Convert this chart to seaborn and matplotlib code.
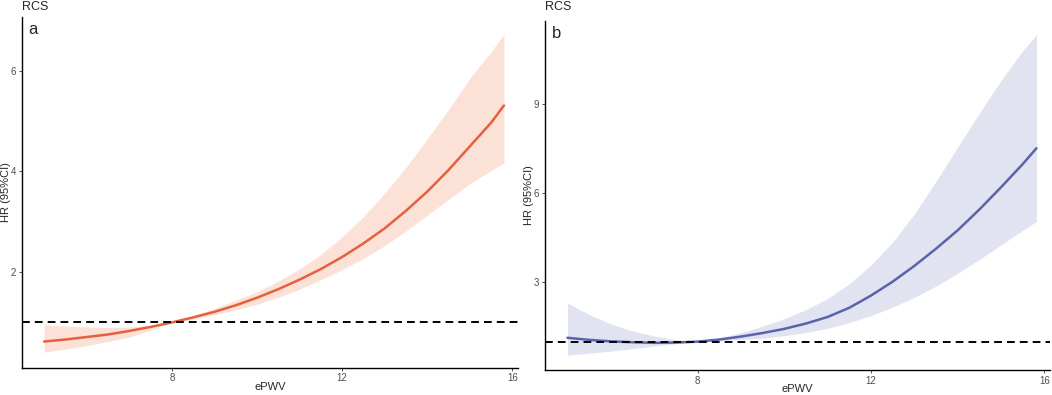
import numpy as np
import pandas as pd
import seaborn as sns
import matplotlib.pyplot as plt

# values (ePWV vs HR, RCS fits)
x_a = [5.0, 5.5, 6.0, 6.5, 7.0, 7.5, 8.0, 8.5, 9.0, 9.5, 10.0, 10.5, 11.0, 11.5,
       12.0, 12.5, 13.0, 13.5, 14.0, 14.5, 15.0, 15.5, 15.8]
hr_a = [0.62, 0.66, 0.71, 0.76, 0.83, 0.91, 1.00, 1.10, 1.21, 1.34, 1.49, 1.66, 1.85, 2.06,
        2.30, 2.57, 2.87, 3.22, 3.60, 4.03, 4.50, 4.97, 5.31]
up_a = [0.95, 0.93, 0.91, 0.90, 0.91, 0.94, 1.00, 1.13, 1.28, 1.44, 1.61, 1.82, 2.06, 2.35,
        2.70, 3.10, 3.57, 4.08, 4.65, 5.23, 5.85, 6.38, 6.72]
lo_a = [0.41, 0.47, 0.54, 0.62, 0.71, 0.84, 1.00, 1.07, 1.15, 1.25, 1.36, 1.50, 1.66, 1.85,
        2.05, 2.27, 2.53, 2.82, 3.13, 3.45, 3.76, 4.02, 4.17]

x_b = [5.0, 5.5, 6.0, 6.5, 7.0, 7.5, 8.0, 8.5, 9.0, 9.5, 10.0, 10.5, 11.0, 11.5,
       12.0, 12.5, 13.0, 13.5, 14.0, 14.5, 15.0, 15.5, 15.82]
hr_b = [1.13, 1.06, 1.01, 0.98, 0.96, 0.97, 1.00, 1.07, 1.17, 1.29, 1.43, 1.61, 1.83, 2.14,
        2.55, 3.02, 3.55, 4.13, 4.75, 5.45, 6.20, 6.98, 7.52]
up_b = [2.30, 1.91, 1.60, 1.36, 1.19, 1.06, 1.00, 1.13, 1.30, 1.52, 1.77, 2.08, 2.45, 2.95,
        3.58, 4.35, 5.30, 6.40, 7.55, 8.70, 9.80, 10.80, 11.34]
lo_b = [0.55, 0.61, 0.68, 0.76, 0.85, 0.93, 1.00, 1.03, 1.07, 1.12, 1.20, 1.31, 1.45, 1.64,
        1.88, 2.16, 2.49, 2.87, 3.30, 3.77, 4.26, 4.75, 5.05]

xticks = [8, 12, 16]
yticks_a = [2, 4, 6]
yticks_b = [3, 6, 9]

sns.set_style("ticks")
plt.rcParams['font.family'] = ['Liberation Sans', 'DejaVu Sans']

fig = plt.figure(figsize=(10.52, 3.95), dpi=100)
ax1 = fig.add_axes([0.0209, 0.0691, 0.4715, 0.888])
ax2 = fig.add_axes([0.518, 0.0633, 0.48, 0.8844])

panels = [
    (ax1, x_a, hr_a, up_a, lo_a, "#E5603F", "#FBE1D6", (0.10, 7.07), yticks_a, "a", -0.032),
    (ax2, x_b, hr_b, up_b, lo_b, "#5A63AB", "#E1E3F1", (0.044, 11.82), yticks_b, "b", -0.031),
]

for ax, xs, hr, up, lo, col, fill, ylim, yt, tag, ylx in panels:
    df = pd.DataFrame({"ePWV": xs, "HR": hr, "upper": up, "lower": lo})
    ax.fill_between(df["ePWV"], df["lower"], df["upper"], color=fill, lw=0)
    sns.lineplot(data=df, x="ePWV", y="HR", ax=ax, color=col, lw=1.8)
    ax.axhline(1, color="black", ls=(0, (4, 2.6)), lw=1.4)
    ax.set_xlim(4.48, 16.13)
    ax.set_ylim(*ylim)
    ax.set_xticks(xticks)
    ax.set_yticks(yt)
    ax.tick_params(labelsize=7, colors="#4D4D4D", length=2.5, width=0.7, pad=1.5)
    for s in ["left", "bottom"]:
        ax.spines[s].set_color("black")
        ax.spines[s].set_linewidth(1.0)
    sns.despine(ax=ax)
    ax.set_xlabel("ePWV", fontsize=8)
    ax.set_ylabel("HR (95%CI)", fontsize=8)
    ax.xaxis.set_label_coords(0.5, -0.054)
    ax.xaxis.label.set_va("center")
    ax.yaxis.set_label_coords(ylx, 0.5)
    ax.yaxis.label.set_va("center")
    ax.text(0.013, 0.985, tag, transform=ax.transAxes, fontsize=12, va="top", ha="left")
    pos = ax.get_position()
    fig.text(pos.x0, 1 - 7 / 395, "RCS", fontsize=9, va="center", ha="left")

fig.savefig("out.png", dpi=100)
